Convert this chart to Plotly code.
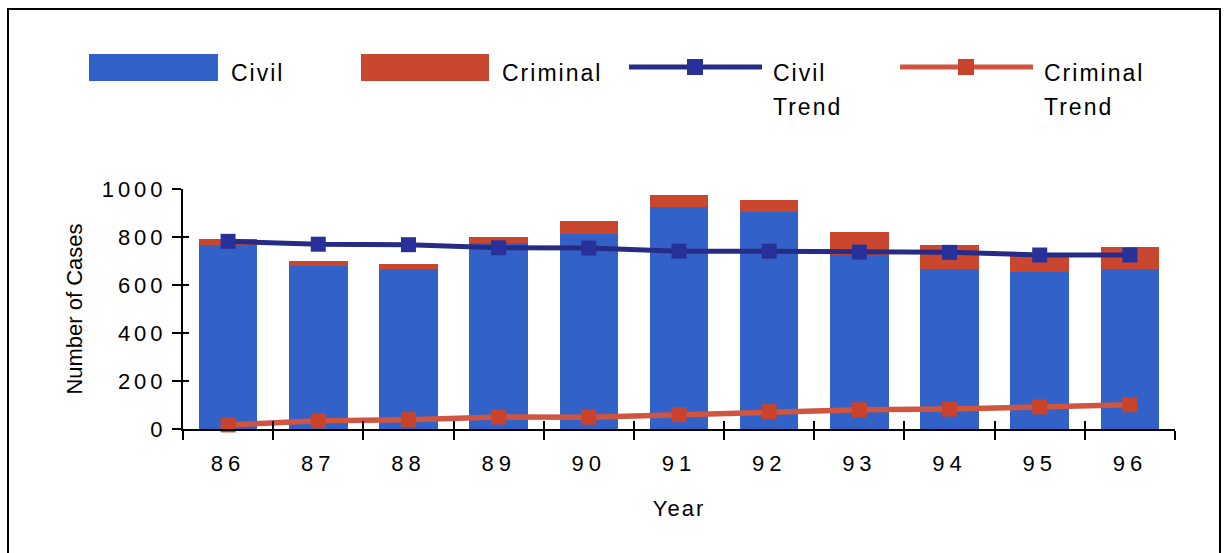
import plotly.graph_objects as go

# ---------------- data ----------------
years = ["86", "87", "88", "89", "90", "91", "92", "93", "94", "95", "96"]
civil = [768, 681, 665, 774, 812, 924, 903, 727, 668, 656, 668]
criminal = [22, 21, 23, 25, 53, 52, 51, 94, 100, 74, 90]
civil_trend = [782, 770, 768, 755, 754, 741, 741, 737, 736, 725, 725]
criminal_trend = [17, 34, 39, 50, 49, 60, 72, 80, 83, 92, 101]
y_ticks = [0, 200, 400, 600, 800, 1000]

legend_labels = ["Civil", "Criminal", "Civil Trend", "Criminal Trend"]

# ---------------- style ----------------
W, H = 1224, 553
ML, MR, MT, MB = 183, 49, 189, 124
PW, PH = W - ML - MR, H - MT - MB
FONT = "Liberation Sans, Arial, Helvetica, sans-serif"
BLUE = "#3262C8"
RED = "#C9472F"
NAVY = "#262B86"
NAVY_MK = "#28309A"
CRIM_LINE = "#CF5540"
CRIM_MK = "#C9432C"


def xp(px):
    return (px - ML) / PW


def yp(py):
    return (H - MB - py) / PH


def spaced(t, s):
    return f'<span style="letter-spacing:{s}px">{t}</span>'


n = len(years)
idx = list(range(n))
boundaries = [i + 0.5 for i in idx]

fig = go.Figure()

fig.add_trace(go.Bar(x=years, y=civil, name=legend_labels[0], marker=dict(color=BLUE, line=dict(width=0)),
                     showlegend=False))
fig.add_trace(go.Bar(x=years, y=criminal, name=legend_labels[1], marker=dict(color=RED, line=dict(width=0)),
                     showlegend=False))
fig.add_trace(go.Scatter(x=years, y=civil_trend, name=legend_labels[2], mode="lines+markers",
                         line=dict(color=NAVY, width=5),
                         marker=dict(symbol="square", size=15, color=NAVY_MK),
                         cliponaxis=False, showlegend=False))
fig.add_trace(go.Scatter(x=years, y=criminal_trend, name=legend_labels[3], mode="lines+markers",
                         line=dict(color=CRIM_LINE, width=5.5),
                         marker=dict(symbol="square", size=15, color=CRIM_MK),
                         cliponaxis=False, showlegend=False))

# invisible helper traces that carry the inside half of the crossing ticks
fig.add_trace(go.Scatter(x=idx, y=civil, xaxis="x2", yaxis="y2", mode="markers",
                         marker=dict(opacity=0, size=1), hoverinfo="skip", showlegend=False))

tick_font = dict(family=FONT, size=22, color="black")

fig.update_layout(
    width=W, height=H,
    margin=dict(l=ML, r=MR, t=MT, b=MB, autoexpand=False),
    paper_bgcolor="white", plot_bgcolor="white",
    barmode="stack", bargap=0.35,
    showlegend=False,
    font=dict(family=FONT, size=22, color="black"),
    xaxis=dict(
        type="category", categoryorder="array", categoryarray=years,
        range=[-0.5, n - 0.5],
        tickmode="array", tickvals=years, ticktext=[spaced(y, 5) for y in years],
        tickson="boundaries", ticks="outside", ticklen=9, tickwidth=2, tickcolor="black",
        showline=True, linewidth=2, linecolor="black", showgrid=False, zeroline=False,
        tickfont=tick_font, ticklabelstandoff=14, automargin=False,
        title=dict(text=spaced("Year", 2), font=dict(family=FONT, size=22), standoff=25),
    ),
    xaxis2=dict(
        type="linear", range=[-0.5, n - 0.5], overlaying="x", anchor="y2", side="bottom",
        tickmode="array", tickvals=boundaries,
        ticks="inside", ticklen=8, tickwidth=2, tickcolor="black",
        showticklabels=False, showline=False, showgrid=False, zeroline=False, automargin=False,
    ),
    yaxis=dict(
        range=[0, 1000], tickmode="array", tickvals=y_ticks,
        ticktext=[spaced(v, 4) for v in y_ticks],
        ticks="outside", ticklen=9, tickwidth=2, tickcolor="black",
        showline=True, linewidth=2, linecolor="black", showgrid=False, zeroline=False,
        tickfont=tick_font, ticklabelstandoff=1, automargin=False,
        title=dict(text="Number of Cases", font=dict(family=FONT, size=22), standoff=13),
    ),
    yaxis2=dict(
        range=[0, 1000], overlaying="y", anchor="x2", side="left",
        tickmode="array", tickvals=y_ticks,
        ticks="inside", ticklen=6, tickwidth=2, tickcolor="black",
        showticklabels=False, showline=False, showgrid=False, zeroline=False, automargin=False,
    ),
)

# ---------------- frame ----------------
shapes = [dict(type="rect", xref="paper", yref="paper",
               x0=xp(8), x1=xp(1220), y0=yp(9), y1=yp(H + 20),
               line=dict(color="black", width=2), fillcolor="rgba(0,0,0,0)", layer="below")]

# ---------------- custom legend ----------------
ROW = 67
shapes += [
    dict(type="rect", xref="paper", yref="paper", x0=xp(89), x1=xp(218), y0=yp(54), y1=yp(81),
         fillcolor=BLUE, line=dict(width=0)),
    dict(type="rect", xref="paper", yref="paper", x0=xp(361), x1=xp(489), y0=yp(54), y1=yp(81),
         fillcolor=RED, line=dict(width=0)),
    dict(type="line", xref="paper", yref="paper", x0=xp(629), x1=xp(762), y0=yp(ROW), y1=yp(ROW),
         line=dict(color=NAVY, width=5)),
    dict(type="rect", xref="paper", yref="paper", x0=xp(687), x1=xp(703), y0=yp(ROW - 8), y1=yp(ROW + 8),
         fillcolor=NAVY_MK, line=dict(width=0)),
    dict(type="line", xref="paper", yref="paper", x0=xp(900), x1=xp(1033), y0=yp(ROW), y1=yp(ROW),
         line=dict(color=CRIM_LINE, width=5)),
    dict(type="rect", xref="paper", yref="paper", x0=xp(958), x1=xp(974), y0=yp(ROW - 8), y1=yp(ROW + 8),
         fillcolor=CRIM_MK, line=dict(width=0)),
]
fig.update_layout(shapes=shapes)

leg_font = dict(family=FONT, size=23, color="black")
leg_items = [
    (229, 73, "Civil"),
    (500, 73, "Criminal"),
    (771, 73, legend_labels[2].split(" ")[0]),
    (771, 107, legend_labels[2].split(" ")[1]),
    (1042, 73, legend_labels[3].split(" ")[0]),
    (1042, 107, legend_labels[3].split(" ")[1]),
]
for x, y, t in leg_items:
    fig.add_annotation(xref="paper", yref="paper", x=xp(x), y=yp(y), text=spaced(t, 2),
                       showarrow=False, xanchor="left", yanchor="middle", font=leg_font)

fig.write_html("out.html")
